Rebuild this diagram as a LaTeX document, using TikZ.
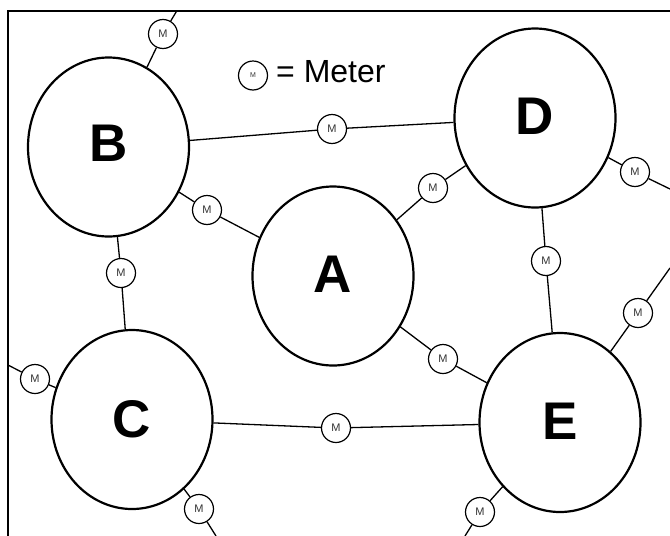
\documentclass[tikz,border=0pt]{standalone}
\usepackage{fontspec}
\setmainfont{Liberation Sans}
\usetikzlibrary{shapes.geometric}
\begin{document}
\begin{tikzpicture}[x=1pt,y=-1pt,
  site/.style={draw,ellipse,line width=2.2pt,minimum width=161pt,minimum height=179pt,inner sep=0pt,font=\fontsize{53}{53}\selectfont\bfseries},
  meter/.style={draw,circle,line width=1.2pt,minimum size=29pt,inner sep=0pt,font=\fontsize{11}{11}\selectfont,text=black!80},
  wire/.style={line width=1.3pt},
  frame/.style={line width=2pt}]
\useasboundingbox (0,0) rectangle (670,536);
\draw[frame] (8,536) -- (8,10.5) -- (670,10.5);
% sites
\node[site] (B) at (108.5,147) {\raisebox{7pt}{B}};
\node[site] (D) at (535,118) {\raisebox{4pt}{D}};
\node[site] (A) at (333,276) {\raisebox{3pt}{A}};
\node[site] (C) at (132,419.5) {C};
\node[site] (E) at (560,422.5) {\raisebox{3pt}{E}};
% meters
\node[meter] (mT)  at (163,34) {M};
\node[meter] (mBD) at (332,129) {M};
\node[meter] (mBA) at (207,210) {M};
\node[meter] (mAD) at (433,188) {M};
\node[meter] (mDr) at (635,172) {M};
\node[meter] (mBC) at (121,273) {M};
\node[meter] (mDE) at (546,261) {M};
\node[meter] (mAE) at (443,359) {M};
\node[meter] (mEr) at (638,313) {M};
\node[meter] (mCl) at (35,379) {M};
\node[meter] (mCE) at (336,428) {M};
\node[meter] (mCb) at (199,509) {M};
\node[meter] (mEb) at (480,512) {M};
% legend
\node[meter,font=\fontsize{7}{7}\selectfont] (leg) at (253,75.5) {M};
\node[anchor=base west,inner sep=0pt,font=\fontsize{32}{32}\selectfont] (legtext) at (276,82) {= Meter};
% free ends
\coordinate (cT) at (177,10.5);
\coordinate (cDr) at (670,189);
\coordinate (cEr) at (670,268);
\coordinate (cCl) at (8,365);
\coordinate (cCb) at (216,536);
\coordinate (cEb) at (465,536);
% wires
\draw[wire] (B) -- (mT) -- (cT);
\draw[wire] (B) -- (mBD) -- (D);
\draw[wire] (B) -- (mBA) -- (A);
\draw[wire] (A) -- (mAD) -- (D);
\draw[wire] (D) -- (mDr) -- (cDr);
\draw[wire] (B) -- (mBC) -- (C);
\draw[wire] (D) -- (mDE) -- (E);
\draw[wire] (A) -- (mAE) -- (E);
\draw[wire] (E) -- (mEr) -- (cEr);
\draw[wire] (cCl) -- (mCl) -- (C);
\draw[wire] (C) -- (mCE) -- (E);
\draw[wire] (C) -- (mCb) -- (cCb);
\draw[wire] (E) -- (mEb) -- (cEb);
\end{tikzpicture}
\end{document}
